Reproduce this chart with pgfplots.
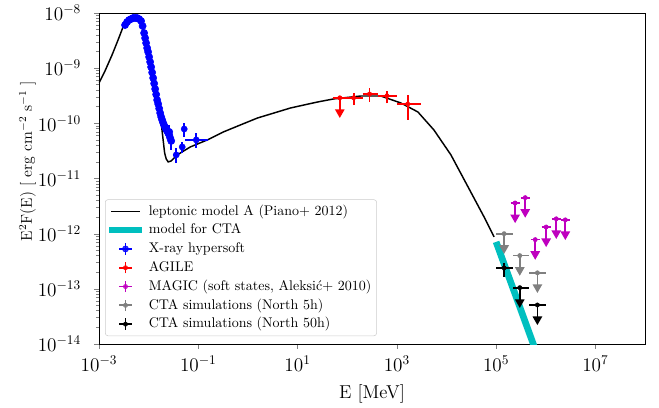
\documentclass[border=0pt]{standalone}
\usepackage{pgfplots}
\pgfplotsset{compat=1.18}
\usetikzlibrary{arrows.meta}
\definecolor{ctateal}{rgb}{0,0.75,0.75}
\definecolor{mag}{rgb}{0.75,0,0.75}
\definecolor{gry}{rgb}{0.5,0.5,0.5}
% point with error bars: colour, x, y, xlo, xhi, ylo, yhi
\newcommand{\ebar}[7]{%
  \addplot[#1,line width=1.3pt,forget plot] coordinates {(#4,#3) (#5,#3)};
  \addplot[#1,line width=1.3pt,forget plot] coordinates {(#2,#6) (#2,#7)};
}
% upper limit: colour, x, y, xlo, xhi, arrow end
\newcommand{\ulim}[6]{%
  \addplot[#1,line width=1.3pt,forget plot] coordinates {(#4,#3) (#5,#3)};
  \addplot[#1,line width=1.3pt,forget plot,-{Triangle[width=7pt,length=6.5pt]}] coordinates {(#2,#3) (#2,#6)};
}
% legend image of an error-bar point: colour, dot radius
\newcommand{\legcross}[2]{\path[draw=none,fill=none] (-0.05cm,0cm) rectangle (0.95cm,0cm); \draw[#1,line width=1.3pt] (0.2cm,0cm) -- (0.54cm,0cm); \draw[#1,line width=1.3pt] (0.37cm,-0.15cm) -- (0.37cm,0.15cm); \fill[#1] (0.37cm,0cm) circle (#2);}
\begin{document}
\begin{tikzpicture}
\begin{axis}[
  scale only axis, width=409.5pt, height=248.25pt,
  xmode=log, ymode=log,
  xmin=1e-3, xmax=1e8, ymin=1e-14, ymax=1e-8,
  xtick={1e-3,1e-1,1e1,1e3,1e5,1e7},
  ytick={1e-14,1e-13,1e-12,1e-11,1e-10,1e-9,1e-8},
  minor ytick={2e-14,3e-14,4e-14,5e-14,6e-14,7e-14,8e-14,9e-14,
    2e-13,3e-13,4e-13,5e-13,6e-13,7e-13,8e-13,9e-13,
    2e-12,3e-12,4e-12,5e-12,6e-12,7e-12,8e-12,9e-12,
    2e-11,3e-11,4e-11,5e-11,6e-11,7e-11,8e-11,9e-11,
    2e-10,3e-10,4e-10,5e-10,6e-10,7e-10,8e-10,9e-10,
    2e-9,3e-9,4e-9,5e-9,6e-9,7e-9,8e-9,9e-9},
  tick pos=left, tick align=outside,
  major tick length=3.5pt, minor tick length=2.3pt,
  minor tick style={line width=0.5pt},
  axis line style={line width=0.6pt},
  tick label style={font=\fontsize{14}{16}\selectfont},
  yticklabel style={xshift=-6.5pt},
  xticklabel style={yshift=-2pt},
  xlabel={E [MeV]},
  ylabel={E$^2$F(E) [ erg cm$^{-2}$ s$^{-1}$ ]},
  xlabel style={at={(axis description cs:0.5,-0.151)}, anchor=center, font=\fontsize{14}{16}\selectfont},
  ylabel style={at={(axis description cs:-0.131,0.553)}, anchor=center, font=\fontsize{11.8}{14}\selectfont},
  legend cell align=left,
  legend style={at={(axis description cs:0.011,0.024)}, anchor=south west,
    draw=black!20, rounded corners=2pt, fill=white, fill opacity=0.8, text opacity=1,
    font=\fontsize{10.5}{13}\selectfont, row sep=0.6pt,
    nodes={inner sep=1pt, text height=8.6pt, text depth=2.9pt}},
]
% leptonic model
\addplot[black, line width=1.1pt, forget plot] table {
x y
1.000e-3 5.40e-10
1.32e-3 8.89e-10
1.83e-3 1.73e-9
2.42e-3 3.24e-9
3.05e-3 5.57e-9
3.85e-3 7.46e-9
4.86e-3 8.47e-9
6.14e-3 8.11e-9
7.40e-3 6.32e-9
8.89e-3 2.63e-9
1.07e-2 9.27e-10
1.29e-2 3.27e-10
1.56e-2 1.61e-10
1.79e-2 1.02e-10
1.96e-2 5.0e-11
2.10e-2 2.91e-11
2.26e-2 2.26e-11
2.48e-2 2.0e-11
2.85e-2 2.08e-11
3.77e-2 2.68e-11
6.89e-2 3.73e-11
0.152 5.0e-11
0.320 6.98e-11
0.705 9.35e-11
1.56 1.25e-10
7.23 1.90e-10
25.4 2.44e-10
53.3 2.77e-10
187 3.13e-10
475 3.13e-10
1205 2.34e-10
2655 1.61e-10
5585 7.59e-11
1.23e4 2.68e-11
2.72e4 7.05e-12
5.73e4 2.01e-12
9.12e4 8.75e-13
};
% model for CTA
\addplot[ctateal, line width=5pt, forget plot] coordinates {(1.0e5,7.1e-13) (1.0e6,2.4e-15)};
% X-ray hypersoft
\addplot[blue, only marks, mark=*, mark size=2.7pt, forget plot] table {
x y
3.352e-3 6.06e-9
3.678e-3 6.87e-9
4.037e-3 7.47e-9
4.430e-3 7.78e-9
4.862e-3 8.12e-9
5.336e-3 8.12e-9
5.857e-3 8.12e-9
6.428e-3 7.78e-9
7.055e-3 7.16e-9
7.565e-3 5.81e-9
8.11e-3 4.34e-9
8.50e-3 3.52e-9
8.90e-3 2.86e-9
9.33e-3 2.32e-9
9.77e-3 1.97e-9
1.023e-2 1.60e-9
1.072e-2 1.30e-9
1.123e-2 1.05e-9
1.177e-2 8.36e-10
1.233e-2 6.65e-10
1.292e-2 5.28e-10
1.353e-2 4.20e-10
1.418e-2 3.34e-10
1.485e-2 2.65e-10
1.556e-2 2.25e-10
1.630e-2 1.86e-10
1.708e-2 1.54e-10
1.789e-2 1.31e-10
1.874e-2 1.15e-10
1.963e-2 1.02e-10
2.056e-2 9.16e-11
2.154e-2 8.43e-11
2.257e-2 7.75e-11
2.364e-2 7.28e-11
2.477e-2 6.70e-11
2.595e-2 6.17e-11
2.718e-2 5.44e-11
2.595e-2 7.0e-11
2.85e-2 4.8e-11
};
\addplot[blue, only marks, mark=*, mark size=2.3pt, forget plot] coordinates {(0.036,2.68e-11) (0.0475,3.73e-11) (0.0521,7.9e-11) (0.0912,5.0e-11)};
\ebar{blue}{0.02595}{7.0e-11}{0.0252}{0.0267}{5.0e-11}{9.35e-11}
\ebar{blue}{0.0285}{4.8e-11}{0.0277}{0.0293}{3.3e-11}{6.7e-11}
\ebar{blue}{0.036}{2.68e-11}{0.0314}{0.0413}{1.92e-11}{3.58e-11}
\ebar{blue}{0.0475}{3.73e-11}{0.0445}{0.0507}{2.91e-11}{4.6e-11}
\ebar{blue}{0.0521}{7.9e-11}{0.0488}{0.0556}{5.7e-11}{1.02e-10}
\ebar{blue}{0.0912}{5.0e-11}{0.0546}{0.159}{3.58e-11}{6.7e-11}
% AGILE
\ulim{red}{71}{2.9e-10}{51}{102}{1.25e-10}
\ebar{red}{135}{2.9e-10}{102}{204}{2.15e-10}{3.55e-10}
\ebar{red}{282}{3.4e-10}{204}{417}{2.45e-10}{4.36e-10}
\ebar{red}{631}{3.16e-10}{417}{1000}{2.3e-10}{3.9e-10}
\ebar{red}{1660}{2.24e-10}{1000}{3020}{1.15e-10}{3.24e-10}
\addplot[red, only marks, mark=*, mark size=1.6pt, forget plot] coordinates {(71,2.9e-10) (135,2.9e-10) (282,3.4e-10) (631,3.16e-10) (1660,2.24e-10)};
% MAGIC
\ulim{mag}{2.42e5}{3.6e-12}{1.97e5}{2.98e5}{1.55e-12}
\ulim{mag}{3.86e5}{4.5e-12}{3.14e5}{4.75e5}{1.94e-12}
\ulim{mag}{6.14e5}{7.8e-13}{4.99e5}{7.55e5}{3.35e-13}
\ulim{mag}{1.02e6}{1.32e-12}{8.3e5}{1.25e6}{5.7e-13}
\ulim{mag}{1.63e6}{1.86e-12}{1.33e6}{2.0e6}{8.0e-13}
\ulim{mag}{2.48e6}{1.78e-12}{2.02e6}{3.05e6}{7.65e-13}
\addplot[mag, only marks, mark=*, mark size=1.6pt, forget plot] coordinates {(2.42e5,3.6e-12) (3.86e5,4.5e-12) (6.14e5,7.8e-13) (1.02e6,1.32e-12) (1.63e6,1.86e-12) (2.48e6,1.78e-12)};
% CTA North 5h
\ulim{gry}{1.45e5}{1.0e-12}{1.0e5}{2.2e5}{4.3e-13}
\ulim{gry}{3.0e5}{4.0e-13}{2.2e5}{4.7e5}{1.72e-13}
\ulim{gry}{6.8e5}{1.95e-13}{4.7e5}{1.0e6}{8.4e-14}
\addplot[gry, only marks, mark=*, mark size=1.6pt, forget plot] coordinates {(1.45e5,1.0e-12) (3.0e5,4.0e-13) (6.8e5,1.95e-13)};
% CTA North 50h
\ebar{black}{1.45e5}{2.4e-13}{1.0e5}{2.2e5}{1.66e-13}{2.95e-13}
\ulim{black}{3.0e5}{1.05e-13}{2.2e5}{4.7e5}{4.5e-14}
\ulim{black}{6.8e5}{5.1e-14}{4.7e5}{1.0e6}{2.2e-14}
\addplot[black, only marks, mark=*, mark size=1.6pt, forget plot] coordinates {(1.45e5,2.4e-13) (3.0e5,1.05e-13) (6.8e5,5.1e-14)};
% legend
\addlegendimage{legend image code/.code={\path[draw=none,fill=none] (-0.05cm,0cm) rectangle (0.95cm,0cm); \draw[black,line width=1.1pt] (0cm,0cm) -- (0.74cm,0cm);}}
\addlegendentry{leptonic model A (Piano+ 2012)}
\addlegendimage{legend image code/.code={\path[draw=none,fill=none] (-0.05cm,0cm) rectangle (0.95cm,0cm); \draw[ctateal,line width=5pt,line cap=rect] (0.03cm,0cm) -- (0.71cm,0cm);}}
\addlegendentry{model for CTA}
\addlegendimage{legend image code/.code={\legcross{blue}{2.3pt}}}
\addlegendentry{X-ray hypersoft}
\addlegendimage{legend image code/.code={\legcross{red}{1.6pt}}}
\addlegendentry{AGILE}
\addlegendimage{legend image code/.code={\legcross{mag}{1.6pt}}}
\addlegendentry{MAGIC (soft states, Aleksi\'{c}+ 2010)}
\addlegendimage{legend image code/.code={\legcross{gry}{1.6pt}}}
\addlegendentry{CTA simulations (North 5h)}
\addlegendimage{legend image code/.code={\legcross{black}{1.6pt}}}
\addlegendentry{CTA simulations (North 50h)}
\end{axis}
\pgfresetboundingbox
\path[use as bounding box] (-74.25pt,-47.25pt) rectangle (420pt,258pt);
\end{tikzpicture}
\end{document}
